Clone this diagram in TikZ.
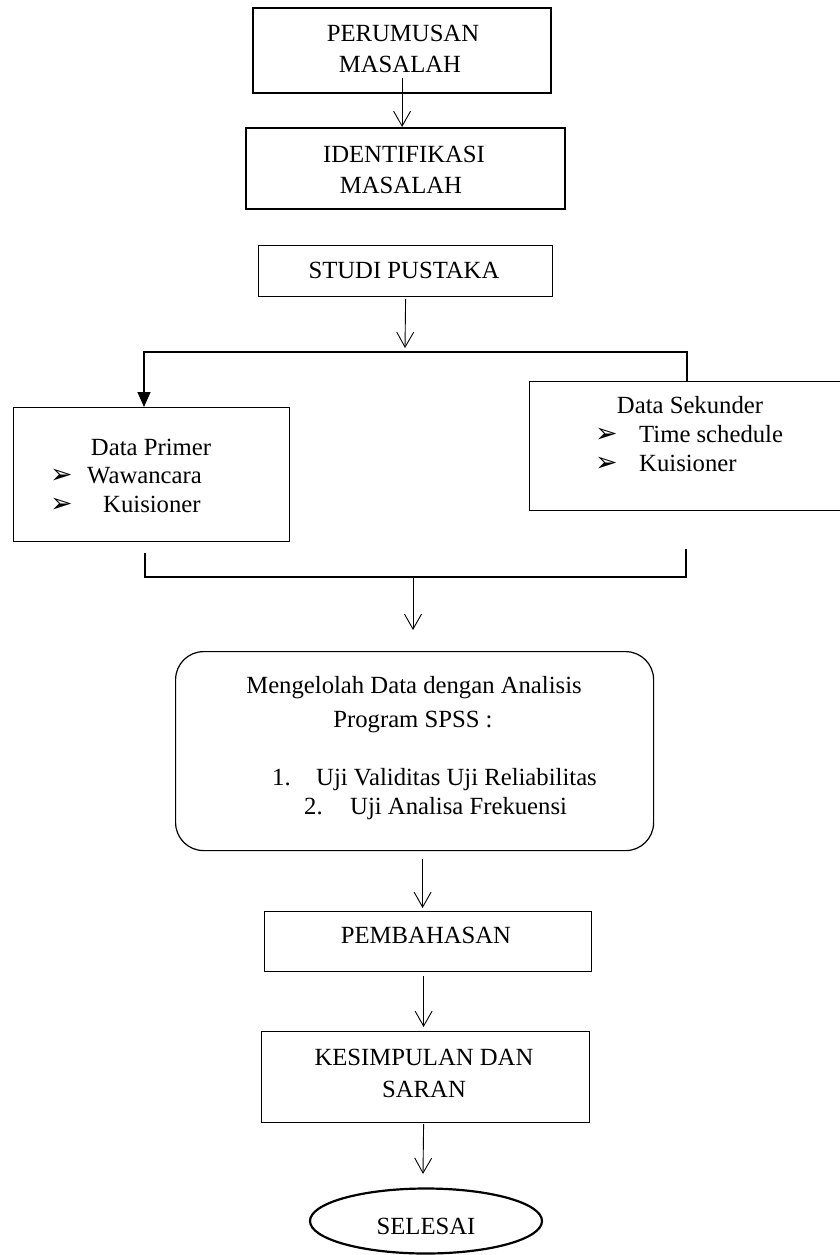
\documentclass[tikz,border=0pt]{standalone}
\usepackage{fontspec}
\setmainfont{Liberation Serif}
\newfontfamily\dejavu{DejaVu Sans}
\usetikzlibrary{arrows.meta,shapes.geometric,calc}
\begin{document}
\begin{tikzpicture}[x=1pt,y=-1pt,
  font=\fontsize{24.7}{29}\selectfont,
  box/.style={draw, line width=1.2pt, inner sep=0pt, anchor=north west},
  thickbox/.style={box, line width=2.2pt},
  txt/.style={inner sep=0pt, anchor=base},
  txtl/.style={inner sep=0pt, anchor=base west},
  arr/.style={line width=0.9pt, -{Straight Barb[length=15pt,width=17pt,line width=0.9pt]}},
  hline/.style={line width=1.3pt},
  bul/.style={inner sep=0pt, anchor=base west, font=\dejavu\fontsize{27}{30}\selectfont}]
\useasboundingbox (0,0) rectangle (840,1255);

% boxes
\node[thickbox, minimum width=298pt, minimum height=85pt] (pm) at (252,7) {};
\node[thickbox, minimum width=319pt, minimum height=81pt] (im) at (245,127) {};
\node[box, minimum width=294pt, minimum height=51pt] (sp) at (258,245) {};
\node[box, minimum width=276pt, minimum height=134pt] (dp) at (13,407) {};
\node[box, minimum width=321pt, minimum height=129pt] (ds) at (529,381) {};
\node[box, rounded corners=28pt, minimum width=478pt, minimum height=199pt] (mg) at (175,651) {};
\node[box, minimum width=327pt, minimum height=60pt] (pb) at (264,911) {};
\node[box, minimum width=328pt, minimum height=91pt] (ks) at (261,1031) {};
\node[draw, ellipse, line width=2.2pt, inner sep=0pt, minimum width=232pt, minimum height=65pt] (sl) at (426,1221) {};

% texts
\node[txt] (pm1) at (403,42) {PERUMUSAN};
\node[txt] (pm2) at (400,73) {MASALAH};
\node[txt] (im1) at (404,162) {IDENTIFIKASI};
\node[txt] (im2) at (401,193) {MASALAH};
\node[txt] (sp1) at (404,278) {STUDI PUSTAKA};

\node[txt] (dp1) at (151,455) {Data Primer};
\node[bul] (dpb1) at (50,483) {➢};
\node[txtl] (dp2) at (87,483) {Wawancara};
\node[bul] (dpb2) at (50,512) {➢};
\node[txtl] (dp3) at (103,512) {Kuisioner};

\node[txt] (ds1) at (690,413) {Data Sekunder};
\node[bul] (dsb1) at (595,442) {➢};
\node[txtl] (ds2) at (639,442) {Time schedule};
\node[bul] (dsb2) at (595,471) {➢};
\node[txtl] (ds3) at (639,471) {Kuisioner};

\node[txt] (mg1) at (414,693) {Mengelolah Data dengan Analisis};
\node[txt] (mg2) at (413,727) {Program SPSS :};
\node[txtl] (mgn1) at (272,785) {1.};
\node[txtl] (mg3) at (316,785) {Uji Validitas Uji Reliabilitas};
\node[txtl] (mgn2) at (304,814) {2.};
\node[txtl] (mg4) at (350,814) {Uji Analisa Frekuensi};

\node[txt] (pb1) at (426,943) {PEMBAHASAN};
\node[txt] (ks1) at (424,1065) {KESIMPULAN DAN};
\node[txt] (ks2) at (424,1097) {SARAN};
\node[txt] (sl1) at (426,1234) {SELESAI};

% connector coordinates
\coordinate (pms) at ([yshift=16pt]pm.south);
\coordinate (spl) at (405,348);
\coordinate (tl) at (144,352);
\coordinate (tr) at (687,352);
\coordinate (bl1) at (145,553);
\coordinate (bl) at (145,577);
\coordinate (br) at (686,577);
\coordinate (br1) at (686,549);
\coordinate (bm) at (413,577);
\coordinate (mgin) at (413,630);

% connectors
\draw[arr] (pms) -- (pms |- im.north);
\draw[arr] ([yshift=-2pt]sp.south) -- (spl);
\draw[hline, -{Triangle[length=15pt,width=13pt]}] (tr |- ds.north) -- (tr) -- (tl) -- (tl |- dp.north);
\draw[hline] (bl1) -- (bl) -- (br) -- (br1);
\draw[arr] (bm) -- (mgin);
\draw[arr] ($(mg.south)+(8,8)$) -- ($(pb.north)+(-5.5,-3)$);
\draw[arr] ($(pb.south)+(-4.5,4)$) -- ($(ks.north)+(-2,-4)$);
\draw[arr] ($(ks.south)+(-2,1)$) -- ($(sl.north)+(-3,-13.5)$);
\end{tikzpicture}
\end{document}
